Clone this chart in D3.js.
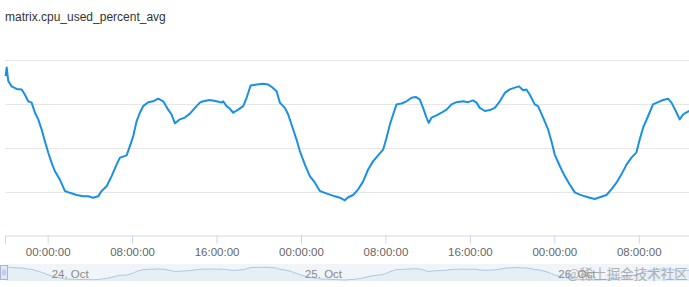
<!DOCTYPE html>
<html>
<head>
<meta charset="utf-8">
<script src="https://cdn.jsdelivr.net/npm/d3@7"></script>
<style>
  body { margin: 0; background: #fff; }
  svg { display: block; }
</style>
</head>
<body>
<div id="chart"></div>
<script>
// hours since 24 Oct 00:00 (UTC) and the cpu value read at that time
const hours = [-3.98, -3.88, -3.73, -3.41, -2.94, -2.46, -2.15, -1.84, -1.52, -1.20, -0.89, -0.57, -0.26, 0.06, 0.38, 0.69, 1.16, 1.64, 2.11, 2.75,
  3.37, 3.85, 4.32, 4.79, 5.11, 5.59, 6.06, 6.53, 6.85, 7.48, 7.79, 8.11, 8.43, 8.74, 9.05, 9.53, 10.00, 10.47, 10.95, 11.42,
  11.74, 12.06, 12.53, 13.00, 13.48, 13.95, 14.42, 14.74, 15.37, 16.01, 16.48, 16.63, 16.95, 17.27, 17.58, 18.05, 18.53, 18.85, 19.23, 19.79,
  20.42, 20.89, 21.21, 21.69, 22.00, 22.47, 22.79, 23.26, 23.58, 23.89, 24.37, 24.84, 25.32, 25.79, 26.26, 26.74, 27.21, 27.68, 28.16, 28.47,
  28.94, 29.42, 29.89, 30.36, 30.84, 31.31, 31.78, 32.11, 32.42, 32.73, 33.05, 33.53, 34.00, 34.47, 34.88, 35.26, 35.57, 35.89, 36.11, 36.37,
  36.84, 37.31, 37.79, 38.26, 38.73, 39.36, 39.83, 40.31, 40.63, 40.94, 41.42, 41.89, 42.36, 42.84, 43.31, 43.78, 44.26, 44.66, 45.04, 45.36,
  45.68, 46.15, 46.46, 46.94, 47.41, 47.73, 48.04, 48.52, 48.99, 49.46, 49.94, 50.41, 50.89, 51.36, 51.83, 52.31, 52.94, 53.41, 53.89, 54.36,
  54.84, 55.31, 55.78, 56.09, 56.41, 56.88, 57.35, 57.83, 58.30, 58.77, 59.10, 59.51, 59.88, 60.20, 60.52, 60.80];

const cpu = [36.2, 38.2, 35.1, 33.9, 33.3, 33.2, 32.0, 30.5, 30.2, 27.9, 26.4, 24.1, 21.4, 18.8, 16.5, 14.6, 12.7, 10.1, 9.7, 9.2,
  8.9, 8.9, 8.6, 8.9, 10.1, 11.2, 13.5, 16.1, 17.7, 18.2, 20.3, 22.6, 26.0, 27.9, 29.4, 30.3, 30.5, 31.1, 30.5, 28.6,
  27.5, 25.5, 26.4, 26.8, 27.7, 29.0, 30.2, 30.5, 30.8, 30.5, 30.2, 30.5, 29.4, 28.8, 27.9, 28.6, 29.4, 31.3, 34.1, 34.3,
  34.5, 34.3, 33.8, 32.8, 30.2, 29.0, 27.5, 24.1, 21.8, 19.2, 16.1, 13.5, 12.0, 10.1, 9.7, 9.3, 8.9, 8.6, 8.0, 8.7,
  9.2, 10.5, 12.3, 15.0, 16.9, 18.2, 19.5, 22.2, 25.2, 27.5, 29.8, 30.0, 30.5, 31.3, 31.5, 30.9, 29.0, 26.8, 25.6, 26.8,
  27.3, 27.9, 28.6, 29.8, 30.3, 30.5, 30.3, 30.7, 30.2, 29.0, 28.3, 28.5, 29.0, 30.5, 32.4, 33.2, 33.6, 33.9, 33.0, 33.2,
  32.0, 29.8, 29.4, 26.8, 24.1, 21.4, 18.4, 15.8, 13.5, 11.6, 9.8, 9.3, 8.9, 8.6, 8.3, 8.7, 9.2, 10.5, 12.0, 13.9,
  16.1, 17.7, 18.9, 21.8, 24.5, 27.1, 29.8, 30.3, 30.8, 31.1, 30.2, 28.3, 26.4, 27.5, 28.0, 28.3];

const yTicks = [10, 20, 30, 40];
const viewHours = [-4.04, 60.76];
const title = "matrix.cpu_used_percent_avg";
const watermark = "@稀土掘金技术社区";

const base = Date.UTC(2023, 9, 24);
const toDate = h => new Date(base + h * 3600 * 1000);
const data = hours.map((h, i) => ({ t: toDate(h), v: cpu[i] }));

const width = 689, height = 287;
const plot = { left: 5, right: 689, top: 59.5, bottom: 235.5 };
const nav = { top: 264, bottom: 281 };

const svg = d3.select("#chart").append("svg").attr("width", width).attr("height", height)
  .style("font-family", "'Liberation Sans', Arial, sans-serif");

const xScale = d3.scaleUtc().domain(viewHours.map(toDate)).range([plot.left, plot.right]);
const yScale = d3.scaleLinear().domain([0, 40]).range([plot.bottom, plot.top]);

svg.append("text").attr("x", 5).attr("y", 21).attr("fill", "#333").style("font-size", "12px").text(title);

// grid lines
svg.append("g").selectAll("line").data(yTicks).enter().append("line")
  .attr("x1", plot.left).attr("x2", plot.right)
  .attr("y1", d => Math.round(yScale(d)) + 0.5).attr("y2", d => Math.round(yScale(d)) + 0.5)
  .attr("stroke", "#e6e6e6").attr("stroke-width", 1);

// x axis
const xAxis = d3.axisBottom(xScale).ticks(d3.utcHour.every(8)).tickFormat(d3.utcFormat("%H:%M:%S"))
  .tickSize(8).tickPadding(4);
const gx = svg.append("g").attr("transform", `translate(0, ${plot.bottom})`).call(xAxis);
gx.select(".domain").attr("stroke", "#ccd6eb");
gx.selectAll(".tick line").attr("stroke", "#ccd6eb");
gx.selectAll(".tick text").attr("fill", "#666").style("font-size", "11.5px").style("font-family", "'Liberation Sans', Arial, sans-serif");

// series
const line = d3.line().x(d => xScale(d.t)).y(d => yScale(d.v)).curve(d3.curveLinear);
svg.append("path").datum(data).attr("fill", "none").attr("stroke", "#1a90e2").attr("stroke-width", 2)
  .attr("stroke-linejoin", "round").attr("d", line);

// navigator
const navY = d3.scaleLinear().domain(d3.extent(cpu)).range([nav.bottom - 1, nav.top + 1.5]);
svg.append("rect").attr("x", plot.left).attr("y", nav.top).attr("width", plot.right - plot.left).attr("height", nav.bottom - nav.top)
  .attr("fill", "#f1f5f9");
const navArea = d3.area().x(d => xScale(d.t)).y0(nav.bottom).y1(d => navY(d.v));
svg.append("path").datum(data).attr("fill", "#e6eef6").attr("d", navArea);
svg.append("path").datum(data).attr("fill", "none").attr("stroke", "#a9c9e3").attr("stroke-width", 1)
  .attr("d", d3.line().x(d => xScale(d.t)).y(d => navY(d.v)));

const navTicks = xScale.ticks(d3.utcDay.every(1));
svg.append("g").selectAll("text").data(navTicks).enter().append("text")
  .attr("x", d => xScale(d) + 4).attr("y", 277.5).attr("fill", "#888").style("font-size", "11.5px")
  .text(d3.utcFormat("%-d. %b"));

// left handle
const handle = svg.append("g").attr("transform", "translate(0.5, 265.5)");
handle.append("rect").attr("width", 7).attr("height", 14).attr("fill", "#e4e7f6").attr("stroke", "#aab2dc");
handle.append("line").attr("x1", 2.5).attr("x2", 2.5).attr("y1", 4).attr("y2", 10).attr("stroke", "#aab2dc");
handle.append("line").attr("x1", 4.5).attr("x2", 4.5).attr("y1", 4).attr("y2", 10).attr("stroke", "#aab2dc");

svg.append("text").attr("x", 567).attr("y", 279).attr("fill", "#9a9a9a").attr("opacity", 0.75)
  .style("font-family", "'Noto Sans CJK SC', sans-serif").style("font-size", "13.5px").text(watermark);
</script>
</body>
</html>
